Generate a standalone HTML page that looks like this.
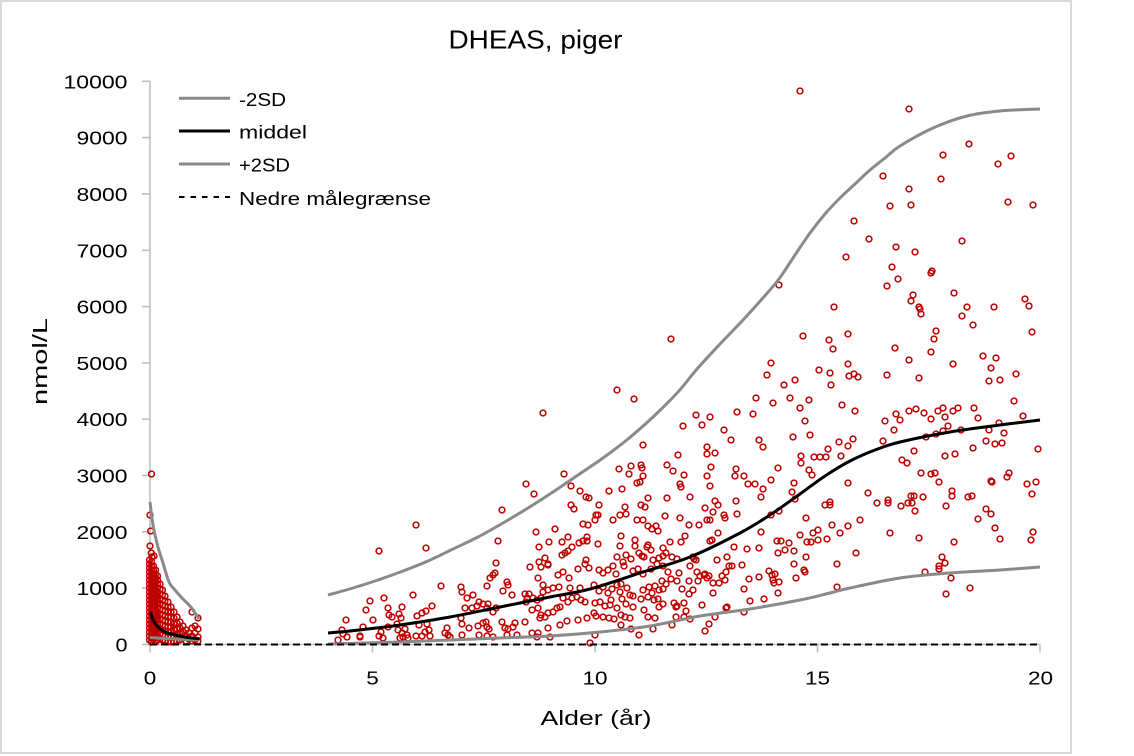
<!DOCTYPE html>
<html><head><meta charset="utf-8"><style>
html,body{margin:0;padding:0;background:#fff;}
svg{display:block;}
text{font-family:"Liberation Sans",Arial,sans-serif;fill:#000;}
</style></head><body>
<svg id="chart" width="1134" height="756" viewBox="0 0 1134 756" xmlns="http://www.w3.org/2000/svg">
<defs>
<marker id="c" markerWidth="8" markerHeight="8" refX="4" refY="4" markerUnits="userSpaceOnUse" overflow="visible">
<circle cx="4" cy="4" r="2.9" fill="none" stroke="#c00000" stroke-width="1.5"/>
</marker>
</defs>
<rect x="0" y="0" width="1134" height="756" fill="#fff"/>
<rect x="1" y="1" width="1070" height="752" fill="none" stroke="#d9d9d9" stroke-width="2"/>

<text x="535.5" y="48.7" font-size="26" text-anchor="middle" textLength="174" lengthAdjust="spacingAndGlyphs">DHEAS, piger</text>

<g stroke="#bfbfbf" stroke-width="1.6">
<line x1="150" y1="81.3" x2="150" y2="652.5"/>
<line x1="150" y1="644.5" x2="1040" y2="644.5"/>
<line x1="142" y1="644.5" x2="150" y2="644.5"/>
<line x1="142" y1="588.2" x2="150" y2="588.2"/>
<line x1="142" y1="531.8" x2="150" y2="531.8"/>
<line x1="142" y1="475.5" x2="150" y2="475.5"/>
<line x1="142" y1="419.2" x2="150" y2="419.2"/>
<line x1="142" y1="362.9" x2="150" y2="362.9"/>
<line x1="142" y1="306.6" x2="150" y2="306.6"/>
<line x1="142" y1="250.3" x2="150" y2="250.3"/>
<line x1="142" y1="193.9" x2="150" y2="193.9"/>
<line x1="142" y1="137.6" x2="150" y2="137.6"/>
<line x1="142" y1="81.3" x2="150" y2="81.3"/>
<line x1="372.5" y1="644.5" x2="372.5" y2="652.5"/>
<line x1="595" y1="644.5" x2="595" y2="652.5"/>
<line x1="817.5" y1="644.5" x2="817.5" y2="652.5"/>
<line x1="1040" y1="644.5" x2="1040" y2="652.5"/>
</g>

<g font-size="18.6" text-anchor="end">
<text x="127.5" y="651.5" textLength="12" lengthAdjust="spacingAndGlyphs">0</text>
<text x="127.5" y="595.2" textLength="51" lengthAdjust="spacingAndGlyphs">1000</text>
<text x="127.5" y="538.8" textLength="51" lengthAdjust="spacingAndGlyphs">2000</text>
<text x="127.5" y="482.5" textLength="51" lengthAdjust="spacingAndGlyphs">3000</text>
<text x="127.5" y="426.2" textLength="51" lengthAdjust="spacingAndGlyphs">4000</text>
<text x="127.5" y="369.9" textLength="51" lengthAdjust="spacingAndGlyphs">5000</text>
<text x="127.5" y="313.6" textLength="51" lengthAdjust="spacingAndGlyphs">6000</text>
<text x="127.5" y="257.3" textLength="51" lengthAdjust="spacingAndGlyphs">7000</text>
<text x="127.5" y="200.9" textLength="51" lengthAdjust="spacingAndGlyphs">8000</text>
<text x="127.5" y="144.6" textLength="51" lengthAdjust="spacingAndGlyphs">9000</text>
<text x="127.5" y="88.3" textLength="64" lengthAdjust="spacingAndGlyphs">10000</text>
</g>
<g font-size="18.6" text-anchor="middle">
<text x="150" y="684.5" textLength="12.5" lengthAdjust="spacingAndGlyphs">0</text>
<text x="372.5" y="684.5" textLength="12.5" lengthAdjust="spacingAndGlyphs">5</text>
<text x="595" y="684.5" textLength="25" lengthAdjust="spacingAndGlyphs">10</text>
<text x="817.5" y="684.5" textLength="25" lengthAdjust="spacingAndGlyphs">15</text>
<text x="1040.5" y="684.5" textLength="25" lengthAdjust="spacingAndGlyphs">20</text>
</g>
<text x="596" y="725" font-size="20.5" text-anchor="middle" textLength="111" lengthAdjust="spacingAndGlyphs">Alder (år)</text>
<text transform="translate(47,361.5) rotate(-90)" font-size="20.5" text-anchor="middle" textLength="87" lengthAdjust="spacingAndGlyphs">nmol/L</text>

<!-- infant scatter -->
<polyline fill="none" stroke="none" marker-start="url(#c)" marker-mid="url(#c)" marker-end="url(#c)" points="
151.5,474 150,515 150.7,531 150,546 151.3,553 152,557 154,556
149.5,560 149.5,564 149.5,568 149.5,572 149.5,576 149.5,580 149.5,584 149.5,588 149.5,592 149.5,596 149.5,600 149.5,604 149.5,608 149.5,612 149.5,616 149.5,620 149.5,624 149.5,628 149.5,632 149.5,636 149.5,640
151.5,562 151.5,566 151.5,570 151.5,574 151.5,578 151.5,582 151.5,586 151.5,590 151.5,594 151.5,598 151.5,602 151.5,606 151.5,610 151.5,614 151.5,618 151.5,622 151.5,626 151.5,630 151.5,634 151.5,638 151.5,642
153.5,566 153.5,570 153.5,574 153.5,578 153.5,582 153.5,586 153.5,590 153.5,594 153.5,598 153.5,602 153.5,606 153.5,610 153.5,614 153.5,618 153.5,622 153.5,626 153.5,630 153.5,634 153.5,638
155.5,570 155.5,574 155.5,578 155.5,582 155.5,586 155.5,590 155.5,594 155.5,598 155.5,602 155.5,606 155.5,610 155.5,614 155.5,618 155.5,622 155.5,626 155.5,630 155.5,634 155.5,638 155.5,642
157.5,576 157.5,580 157.5,584 157.5,588 157.5,592 157.5,596 157.5,600 157.5,604 157.5,608 157.5,612 157.5,616 157.5,620 157.5,624 157.5,628 157.5,632 157.5,636 157.5,640
160,584 160,589 160,594 160,599 160,604 160,609 160,614 160,619 160,624 160,629 160,634 160,639
162.5,590 162.5,595 162.5,600 162.5,605 162.5,610 162.5,615 162.5,620 162.5,625 162.5,630 162.5,635 162.5,640
165,596 165,601 165,606 165,611 165,616 165,621 165,626 165,631 165,636 165,641
168,602 168,607 168,612 168,617 168,622 168,627 168,632 168,637 168,642
171,607 171,612 171,617 171,622 171,627 171,632 171,637 171,642
174,612 174,618 174,624 174,630 174,636 174,642
177,617 177,623 177,629 177,635 177,641
180,622 180,628 180,634 180,640
183,626 183,632 183,638
186,630 186,636 186,641
189,633 189,639
192,612 192,628 192,636 192,641
195,626 195,633 195,640
198,618 198,629 198,637 198,641"/>

<!-- main scatter -->
<polyline fill="none" stroke="none" marker-start="url(#c)" marker-mid="url(#c)" marker-end="url(#c)" points="
342,630 338,640
346,620 343,634 347,637 363,627 366,610 370,601 360,636 373,620 384,598 388,608 389,615 392,617 381,632 379,636 383,638 388,627 399,614 402,607 401,618 397,624 398,630 402,633 405,629 407,635 408,638 400,638 403,637 413,595 417,616 422,613 426,611 432,606 419,625 427,624 425,632 416,636 422,636 430,636 429,630 441,586 447,628 445,633 448,635 461,587 462,592 465,608 467,598 461,618 462,624 462,635 469,628 473,595 472,608 477,606 479,602 483,604 487,608 488,604 478,626 483,623 486,622 487,627 489,629 479,635 487,636 487,586 490,578 493,575 495,573 493,612 496,608 503,591 507,582 508,585 512,595 502,622 505,628 508,629 513,627 515,623 507,635 517,635 525,594 529,594 527,598 526,602 533,598 537,600 541,598 532,610 538,608 541,615 545,617 548,613 553,612 557,608 560,607 543,592 548,590 553,588 559,587 530,567 541,567 548,565 538,578 543,585 558,575 563,572 569,578 578,569 589,568 563,598 568,602 572,598 577,597 581,600 585,602 570,588 580,588 560,625 567,621 578,620 587,618 548,628 540,618 525,622 532,633 538,633
360,637 450,637 493,637 550,637 537,637
543,413 564,474 526,484 534,494 571,486 580,491 586,497 589,498 571,505 574,509 502,510 583,524 588,525 416,525 555,529 536,532 568,537 562,542 579,543 583,541 587,537 587,541 498,541 549,542 379,551 426,548 539,547 572,547 568,551 565,553 562,555 545,558 539,562 548,564 586,560 585,564 496,563
771,363 767,375 819,370 830,373 831,385 617,390 634,399 784,385 795,380 756,398 773,403 790,398 809,400 800,408 737,412 753,414 696,415 710,417 702,425 683,426 805,421 724,430 793,437 810,435 731,440 759,440 763,447 643,445 707,447 715,453 707,454 678,455 801,456 814,457 820,457 826,457 828,449 801,463 619,469 631,466 629,474 641,465 642,468 643,476 667,465 673,471 711,467 707,476 710,486 736,469 735,476 744,476 778,468 809,470 812,475 684,475 637,483 640,482 609,491 622,489 680,484 681,487 748,484 755,484 763,489 771,480 794,483 792,492 795,499 690,497 667,498 648,498 761,497 599,505 625,507 620,515 626,514 641,505 645,507 705,508 715,501 718,505 736,501 713,512 707,520 710,520 724,515 725,518 737,514 779,511 771,515 806,518 825,505 830,505 596,515 598,515 595,520 665,516 680,518 613,520 637,520 643,520 689,525 699,525 648,526 652,529 656,526 658,531 761,532 718,533 800,535 813,533 818,530 811,542 818,540 827,539 621,536 685,536 598,544 635,540 635,546 670,542 681,542 710,541 712,540 777,541 781,541 789,543 807,542 620,546 648,545 651,550 647,547 663,548 734,547 747,549 759,548 778,553 785,550 794,551 639,553 642,556 644,557 617,557 626,555 631,559 623,562 653,560 659,558 663,556 666,553 672,557 677,559 693,557 696,560 717,560 727,557 732,566 729,566 806,557 794,564 742,565 599,570 603,573 608,570 613,566 616,574 624,566 633,571 638,569 643,574 651,569 657,564 663,566 668,572 679,573 690,566 694,559 697,572 700,576 705,574 709,576 722,576 726,572 725,580 769,571 772,575 775,574 773,580 779,582 796,578 804,570 805,572 594,585 599,591 603,587 608,593 612,589 617,585 620,592 621,584 627,588 643,590 649,587 652,593 655,586 659,590 663,589 666,584 671,579 662,581 677,581 682,589 689,581 693,590 698,581 704,575 707,578 713,583 719,583 744,589 749,579 759,577 774,583 778,593 713,593 689,594 630,595 633,596 611,600 610,605 605,606 600,602 595,603 594,613 622,599 626,604 617,608 633,607 641,599 648,597 654,600 658,599 663,604 659,607 674,603 677,606 676,607 684,603 686,611 644,610 702,605 726,608 727,607 744,612 750,601 764,599 596,616 603,617 609,618 614,619 621,615 625,617 630,618 648,617 655,618 676,617 684,617 690,619 715,617 621,625 631,629 653,629 672,625 709,624 705,631 639,635 595,635 590,643
800,91 779,285 671,339
909,109 969,144 943,155 998,164 1011,156 883,176 941,179 909,189 890,206 911,205 1008,202 1033,205 854,221 869,239 962,241 896,247 915,252 846,257 892,267 932,271 931,273 898,279 887,286 954,293 913,295 911,301 919,307 920,309 921,314 1025,299 1029,306 834,307 967,307 994,307 962,316 973,325 936,331 934,339 1032,332 803,336 829,340 833,349 848,334 895,348 931,352 909,360 983,356 996,358 991,368 953,364 848,364 1016,374 887,375 849,376 854,374 858,377 919,378
989,381 1000,380 842,405 855,411 1014,401 896,414 900,420 885,421 909,411 916,409 924,413 931,419 938,411 943,408 945,417 953,411 958,408 974,408 978,418 1023,416 894,430 948,426 943,431 936,434 926,437 961,430 999,423 989,430 1004,433 883,441 839,442 848,446 853,439 986,441 995,444 1002,443 973,448 1038,449 914,451 841,456 945,456 955,454 902,460 907,463 921,473 931,474 935,473 939,482 1009,473 1007,477 991,481 992,482 848,483 1027,484 1036,482 1032,494 952,491 952,496 868,493 911,496 914,496 923,497 968,497 972,496 830,502 888,500 888,503 877,503 901,506 908,503 912,503 915,511 946,506 986,509 991,514 978,519 860,520 848,526 832,525 995,528 840,533 890,533 919,538 954,542 1000,539 1031,540 1033,532 856,553 942,557 945,563 939,566 939,569 837,564 925,572 951,578 837,587 970,588 946,594"/>

<!-- curves -->
<g fill="none" stroke-linejoin="round" stroke-linecap="butt">
<polyline class="s" stroke="#8a8a8a" stroke-width="3" points="150,502 153,525 158,547 163,563 169,582 175,590 182,598 190,606 195,613 199,619"/>
<polyline class="s" stroke="#8a8a8a" stroke-width="3" points="150,637.5 175,639 199.5,640"/>
<polyline class="s" stroke="#000" stroke-width="3" points="150.5,612 153,620 158,627 165,632 175,635 188,637.5 199.5,638.7"/>
<polyline class="s" stroke="#8a8a8a" stroke-width="3" points="328,595 353,588 378,580 403,571 428,561 453,549 478,537 503,523 528,508 553,492 578,475 603,458 628,439 653,417 678,392 697,369 720,344 743,320 762,299 779,279 795,255 810,233 825,214 840,198 855,184 870,170 885,158 900,146 933,128 967,116 1000,111 1040,109"/>
<polyline class="s" stroke="#8a8a8a" stroke-width="3" points="328,644 400,642 450,640 500,638 550,636 600,632 650,626 700,616 750,609 800,600 830,593 850,588 900,578 950,573 1000,570 1040,567"/>
<polyline class="s" stroke="#000" stroke-width="3" points="328,633 350,631 372,628.5 400,625 450,617 500,607 550,597 590,589 640,573 690,557 740,533 770,515 800,494 825,476 850,461 875,450 900,442 950,432 1000,425 1040,420"/>
<line x1="150" y1="644.5" x2="1040" y2="644.5" stroke="#000" stroke-width="2" stroke-dasharray="7 4"/>
</g>

<!-- legend -->
<g fill="none">
<line x1="179" y1="98.3" x2="230" y2="98.3" stroke="#8a8a8a" stroke-width="3"/>
<line x1="179" y1="131" x2="230" y2="131" stroke="#000" stroke-width="3"/>
<line x1="179" y1="164" x2="230" y2="164" stroke="#8a8a8a" stroke-width="3"/>
<line x1="179" y1="197" x2="230" y2="197" stroke="#000" stroke-width="2" stroke-dasharray="5.5 6"/>
</g>
<g font-size="18.6">
<text x="239" y="106" textLength="47" lengthAdjust="spacingAndGlyphs">-2SD</text>
<text x="239" y="138.5" textLength="68" lengthAdjust="spacingAndGlyphs">middel</text>
<text x="239" y="171.5" textLength="51" lengthAdjust="spacingAndGlyphs">+2SD</text>
<text x="239" y="205" textLength="192" lengthAdjust="spacingAndGlyphs">Nedre målegrænse</text>
</g>
</svg>
<script>
(function(){
  var NS="http://www.w3.org/2000/svg";
  var pls=document.querySelectorAll("polyline.s");
  for(var k=0;k<pls.length;k++){
    var pl=pls[k];
    var p=pl.getAttribute("points").trim().split(/\s+/).map(function(s){return s.split(",").map(Number);});
    var d="M"+p[0][0]+","+p[0][1];
    for(var i=0;i<p.length-1;i++){
      var p0=p[i-1]||p[i],p1=p[i],p2=p[i+1],p3=p[i+2]||p2;
      var c1x=p1[0]+(p2[0]-p0[0])/6,c1y=p1[1]+(p2[1]-p0[1])/6;
      var c2x=p2[0]-(p3[0]-p1[0])/6,c2y=p2[1]-(p3[1]-p1[1])/6;
      d+=" C"+c1x.toFixed(2)+","+c1y.toFixed(2)+" "+c2x.toFixed(2)+","+c2y.toFixed(2)+" "+p2[0]+","+p2[1];
    }
    var path=document.createElementNS(NS,"path");
    path.setAttribute("d",d);
    path.setAttribute("fill","none");
    path.setAttribute("stroke",pl.getAttribute("stroke"));
    path.setAttribute("stroke-width",pl.getAttribute("stroke-width"));
    path.setAttribute("stroke-linejoin","round");
    pl.parentNode.insertBefore(path,pl);
    pl.parentNode.removeChild(pl);
  }
})();
</script>
</body></html>
